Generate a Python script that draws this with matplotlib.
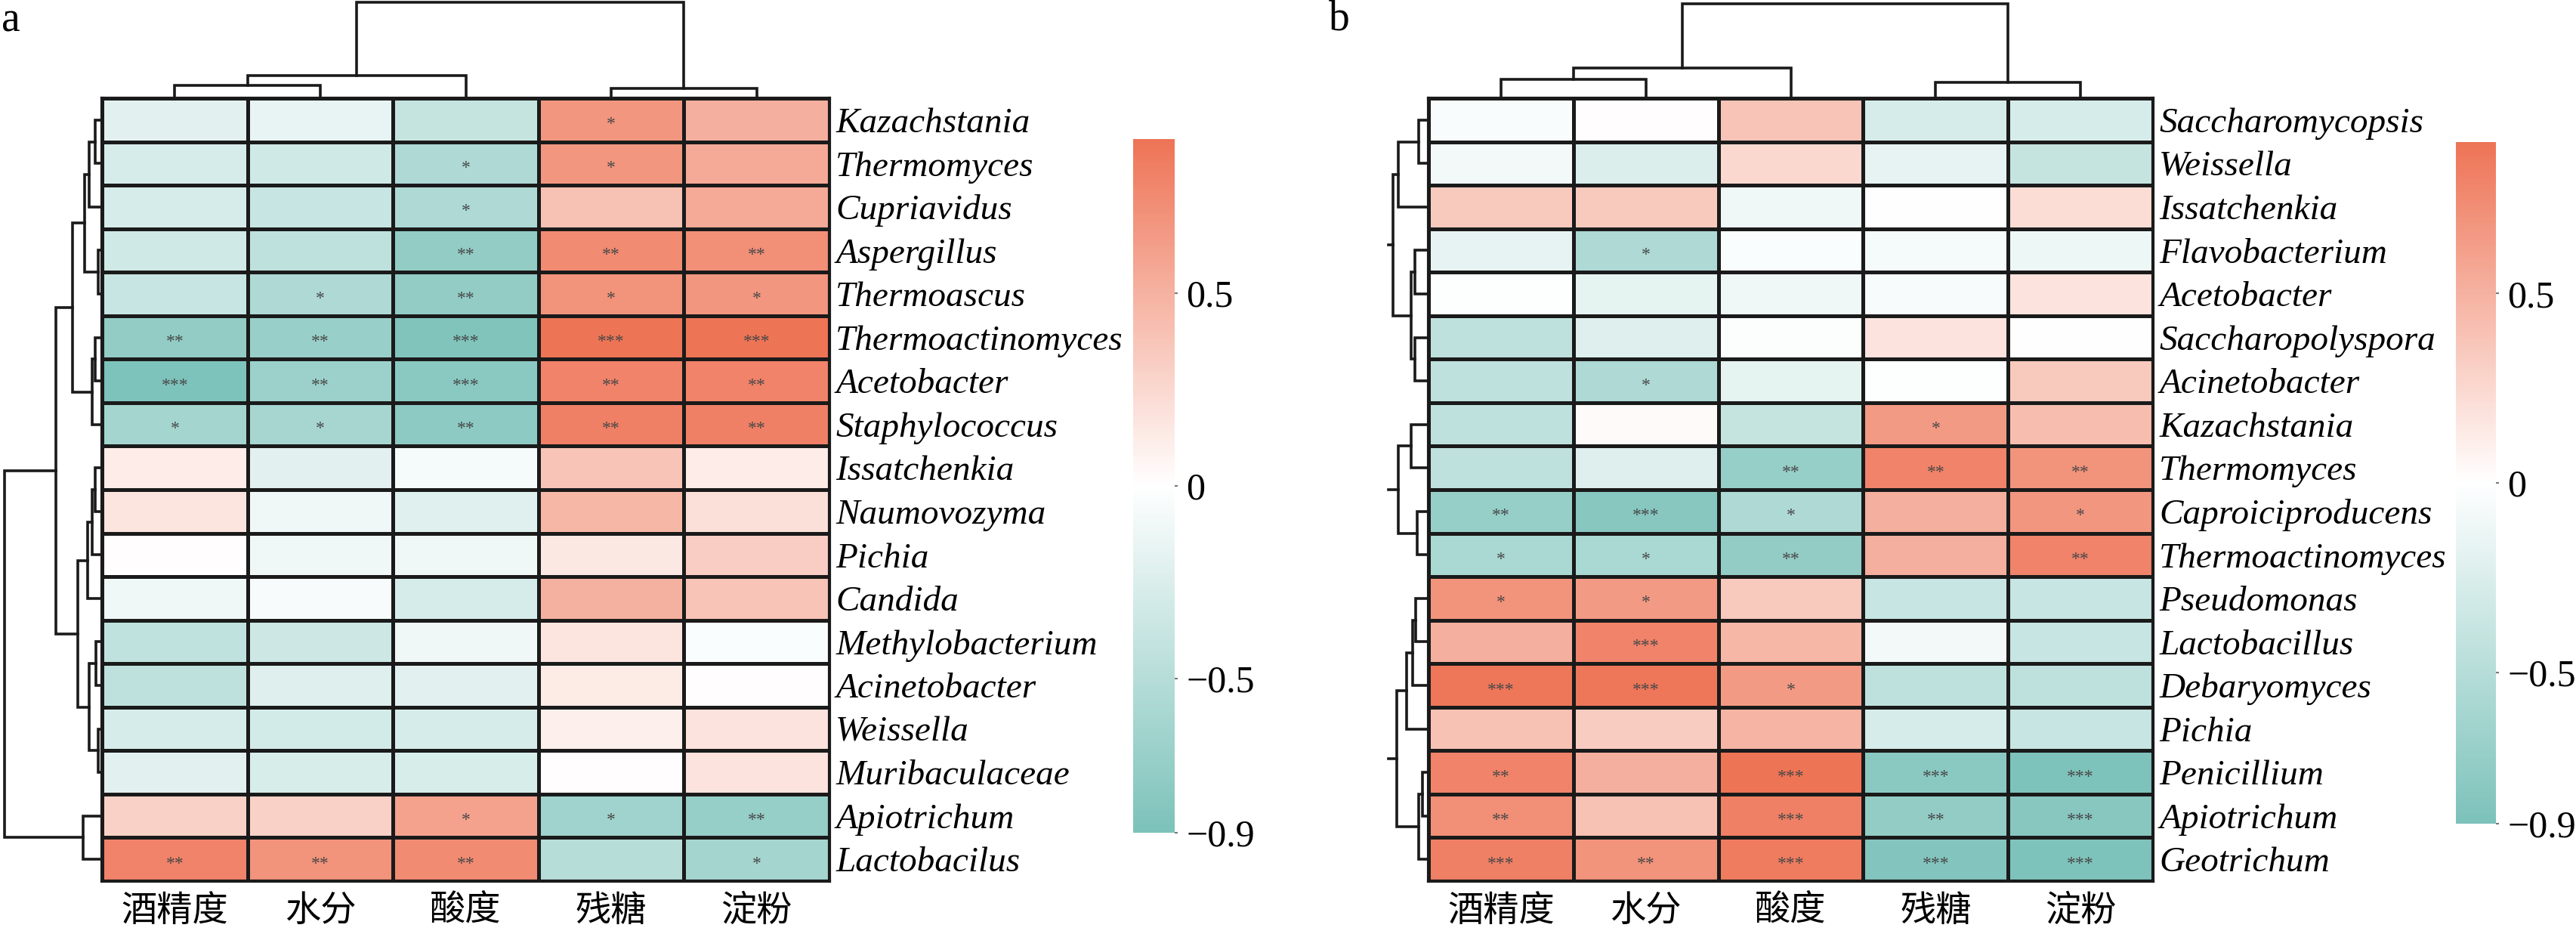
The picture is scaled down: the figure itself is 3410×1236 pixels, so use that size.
import numpy as np
import matplotlib
matplotlib.use('Agg')
import matplotlib.pyplot as plt
from matplotlib.colors import LinearSegmentedColormap

cols = ['酒精度', '水分', '酸度', '残糖', '淀粉']

# panel a
rows_a = ['Kazachstania', 'Thermomyces', 'Cupriavidus', 'Aspergillus', 'Thermoascus',
          'Thermoactinomyces', 'Acetobacter', 'Staphylococcus', 'Issatchenkia', 'Naumovozyma',
          'Pichia', 'Candida', 'Methylobacterium', 'Acinetobacter', 'Weissella',
          'Muribaculaceae', 'Apiotrichum', 'Lactobacilus']
vals_a = [
    [-0.20, -0.16, -0.40, 0.68, 0.52],
    [-0.28, -0.33, -0.55, 0.68, 0.55],
    [-0.28, -0.38, -0.55, 0.40, 0.55],
    [-0.33, -0.45, -0.75, 0.75, 0.72],
    [-0.38, -0.55, -0.75, 0.70, 0.68],
    [-0.75, -0.70, -0.87, 0.90, 0.90],
    [-0.88, -0.68, -0.80, 0.80, 0.80],
    [-0.62, -0.60, -0.78, 0.82, 0.82],
    [0.12, -0.20, -0.07, 0.38, 0.12],
    [0.17, -0.10, -0.22, 0.47, 0.20],
    [0.01, -0.10, -0.10, 0.15, 0.32],
    [-0.10, -0.05, -0.28, 0.50, 0.38],
    [-0.43, -0.35, -0.10, 0.17, -0.03],
    [-0.45, -0.23, -0.20, 0.13, 0.01],
    [-0.28, -0.30, -0.28, 0.10, 0.18],
    [-0.20, -0.27, -0.27, 0.01, 0.18],
    [0.30, 0.30, 0.60, -0.65, -0.72],
    [0.80, 0.70, 0.75, -0.50, -0.62],
]
sig_a = [
    ['', '', '', '*', ''],
    ['', '', '*', '*', ''],
    ['', '', '*', '', ''],
    ['', '', '**', '**', '**'],
    ['', '*', '**', '*', '*'],
    ['**', '**', '***', '***', '***'],
    ['***', '**', '***', '**', '**'],
    ['*', '*', '**', '**', '**'],
    ['', '', '', '', ''],
    ['', '', '', '', ''],
    ['', '', '', '', ''],
    ['', '', '', '', ''],
    ['', '', '', '', ''],
    ['', '', '', '', ''],
    ['', '', '', '', ''],
    ['', '', '', '', ''],
    ['', '', '*', '*', '**'],
    ['**', '**', '**', '', '*'],
]
# merges: (child, child, height), leaves 0..n-1, new nodes n, n+1, ...
row_tree_a = [(0, 1, 8.7), (18, 2, 17), (3, 4, 5), (19, 20, 23), (5, 6, 8.7), (22, 7, 12.7),
              (21, 23, 39), (8, 9, 8.7), (25, 10, 13), (26, 11, 19), (12, 13, 7.7), (14, 15, 5),
              (28, 29, 17), (27, 30, 32), (24, 31, 61), (16, 17, 25.5), (32, 33, 129)]
col_tree_a = [(0, 1, 17), (5, 2, 30), (3, 4, 13), (6, 7, 127)]

# panel b
rows_b = ['Saccharomycopsis', 'Weissella', 'Issatchenkia', 'Flavobacterium', 'Acetobacter',
          'Saccharopolyspora', 'Acinetobacter', 'Kazachstania', 'Thermomyces', 'Caproiciproducens',
          'Thermoactinomyces', 'Pseudomonas', 'Lactobacillus', 'Debaryomyces', 'Pichia',
          'Penicillium', 'Apiotrichum', 'Geotrichum']
vals_b = [
    [-0.04, 0.01, 0.38, -0.28, -0.28],
    [-0.08, -0.25, 0.25, -0.17, -0.40],
    [0.35, 0.35, -0.10, 0.00, 0.22],
    [-0.17, -0.55, -0.03, -0.07, -0.12],
    [-0.01, -0.18, -0.10, -0.05, 0.18],
    [-0.45, -0.23, -0.02, 0.18, 0.00],
    [-0.45, -0.55, -0.18, -0.01, 0.35],
    [-0.45, 0.03, -0.40, 0.65, 0.42],
    [-0.45, -0.23, -0.72, 0.80, 0.70],
    [-0.72, -0.82, -0.55, 0.52, 0.68],
    [-0.58, -0.58, -0.75, 0.52, 0.80],
    [0.70, 0.65, 0.35, -0.38, -0.38],
    [0.52, 0.80, 0.47, -0.08, -0.38],
    [0.88, 0.88, 0.65, -0.45, -0.45],
    [0.40, 0.33, 0.48, -0.28, -0.38],
    [0.80, 0.52, 0.90, -0.80, -0.88],
    [0.72, 0.40, 0.82, -0.75, -0.82],
    [0.82, 0.70, 0.85, -0.85, -0.88],
]
sig_b = [
    ['', '', '', '', ''],
    ['', '', '', '', ''],
    ['', '', '', '', ''],
    ['', '*', '', '', ''],
    ['', '', '', '', ''],
    ['', '', '', '', ''],
    ['', '*', '', '', ''],
    ['', '', '', '*', ''],
    ['', '', '**', '**', '**'],
    ['**', '***', '*', '', '*'],
    ['*', '*', '**', '', '**'],
    ['*', '*', '', '', ''],
    ['', '***', '', '', ''],
    ['***', '***', '*', '', ''],
    ['', '', '', '', ''],
    ['**', '', '***', '***', '***'],
    ['**', '', '***', '**', '***'],
    ['***', '**', '***', '***', '***'],
]
row_tree_b = [(0, 1, 13), (18, 2, 40), (3, 4, 18), (5, 6, 18), (20, 21, 23), (19, 22, 47),
              (7, 8, 23), (9, 10, 15), (24, 25, 40), (11, 12, 17), (27, 13, 21), (28, 14, 29),
              (15, 16, 8), (30, 17, 13), (29, 31, 42)]
row_cut_b = 53
col_tree_b = [(0, 1, 25), (5, 2, 40), (3, 4, 21), (6, 7, 125)]

W, H = 3410, 1236
cmap = LinearSegmentedColormap.from_list('tealsalmon', ['#7cc2ba', '#ffffff', '#ee7456'])
serif = 'Liberation Serif'
line_c = '#1a1a1a'


def rect(x0, y0, x1, y1):
    return [x0 / W, 1 - y1 / H, (x1 - x0) / W, (y1 - y0) / H]


def draw_tree(ax, n, merges, side, cut=None):
    pos = {i: i + 0.5 for i in range(n)}
    hgt = {i: 0.0 for i in range(n)}
    used = set()
    for k, (a, b, h) in enumerate(merges):
        p = [pos[a], pos[a], pos[b], pos[b]]
        q = [hgt[a], h, h, hgt[b]]
        if side == 'left':
            ax.plot(q, p, color=line_c, lw=2.6, clip_on=False, solid_joinstyle='miter')
        else:
            ax.plot(p, q, color=line_c, lw=2.6, clip_on=False, solid_joinstyle='miter')
        pos[n + k] = (pos[a] + pos[b]) / 2
        hgt[n + k] = h
        used.update([a, b])
    if cut is not None:
        for node in pos:
            if node >= n and node not in used:
                if side == 'left':
                    ax.plot([hgt[node], cut], [pos[node]] * 2, color=line_c, lw=2.6, clip_on=False)
                else:
                    ax.plot([pos[node]] * 2, [hgt[node], cut], color=line_c, lw=2.6, clip_on=False)
    ax.axis('off')


def draw_panel(fig, rows, vals, sig, row_tree, col_tree, box, left_box, top_box, cbar_box,
               left_span, top_span, cut=None):
    data = np.array(vals)
    nr, nc = data.shape
    ax = fig.add_axes(rect(*box))
    mesh = ax.pcolormesh(np.arange(nc + 1), np.arange(nr + 1), data, cmap=cmap,
                         vmin=-0.9, vmax=0.9, edgecolors=line_c, linewidth=2.2)
    ax.set_xlim(0, nc)
    ax.set_ylim(nr, 0)
    for s in ax.spines.values():
        s.set_linewidth(3)
        s.set_color(line_c)
    for i in range(nr):
        for j in range(nc):
            if sig[i][j]:
                ax.text(j + 0.5, i + 0.5 + 0.2, sig[i][j], ha='center', va='baseline',
                        fontsize=17, color='#474747', family=serif)
    ax.yaxis.tick_right()
    ax.set_yticks(np.arange(nr) + 0.5)
    ax.set_yticklabels(rows, fontsize=34, family=serif, style='italic')
    ax.set_xticks(np.arange(nc) + 0.5)
    ax.set_xticklabels(cols, fontsize=34, family=['Noto Sans CJK SC', 'DejaVu Sans'])
    ax.tick_params(length=0)
    ax.tick_params(axis='y', pad=6)
    ax.tick_params(axis='x', pad=11)

    lax = fig.add_axes(rect(*left_box))
    lax.set_xlim(left_span, 0)
    lax.set_ylim(nr, 0)
    draw_tree(lax, nr, row_tree, 'left', cut)

    tax = fig.add_axes(rect(*top_box))
    tax.set_xlim(0, nc)
    tax.set_ylim(0, top_span)
    draw_tree(tax, nc, col_tree, 'top')

    cax = fig.add_axes(rect(*cbar_box))
    cb = fig.colorbar(mesh, cax=cax)
    cb.outline.set_visible(False)
    cb.set_ticks([-0.9, -0.5, 0, 0.5])
    cb.set_ticklabels(['\u22120.9', '\u22120.5', '0', '0.5'])
    cax.tick_params(length=3, width=1.5, color='#777777', pad=8)
    for t in cax.get_yticklabels():
        t.set_fontsize(36)
        t.set_family(serif)


fig = plt.figure(figsize=(W / 100, H / 100), dpi=100)

draw_panel(fig, rows_a, vals_a, sig_a, row_tree_a, col_tree_a,
           (135, 130, 1098, 1166), (6, 130, 135, 1166), (135, 3, 1098, 130),
           (1500, 184, 1555, 1102), 129, 127)
draw_panel(fig, rows_b, vals_b, sig_b, row_tree_b, col_tree_b,
           (1891, 130, 2850, 1166), (1838, 130, 1891, 1166), (1891, 5, 2850, 130),
           (3251, 188, 3304, 1090), 53, 125, cut=row_cut_b)

fig.text(2 / W, 1 - 41 / H, 'a', fontsize=40, family=serif, va='baseline')
fig.text(1759 / W, 1 - 40 / H, 'b', fontsize=40, family=serif, va='baseline')

fig.savefig('out.png', dpi=100)
